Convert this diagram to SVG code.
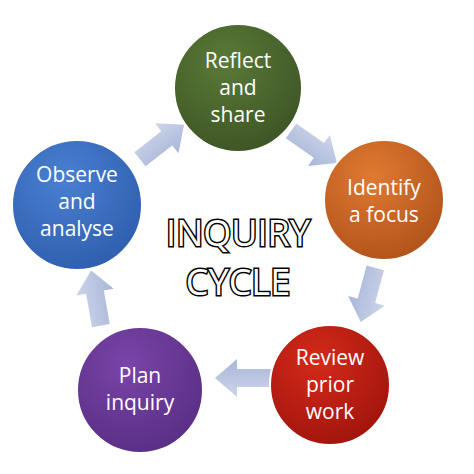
<svg xmlns="http://www.w3.org/2000/svg" width="474" height="474" viewBox="0 0 474 474">
<defs>
<radialGradient id="gG" cx="0.4" cy="0.3" r="0.75"><stop offset="0" stop-color="#5a7a38"/><stop offset="1" stop-color="#3d5424"/></radialGradient>
<radialGradient id="gO" cx="0.4" cy="0.3" r="0.75"><stop offset="0" stop-color="#e07a32"/><stop offset="1" stop-color="#b0521a"/></radialGradient>
<radialGradient id="gR" cx="0.4" cy="0.3" r="0.75"><stop offset="0" stop-color="#d42a1a"/><stop offset="1" stop-color="#a0140c"/></radialGradient>
<radialGradient id="gP" cx="0.4" cy="0.3" r="0.75"><stop offset="0" stop-color="#7a44a8"/><stop offset="1" stop-color="#582e84"/></radialGradient>
<radialGradient id="gB" cx="0.4" cy="0.3" r="0.75"><stop offset="0" stop-color="#4a7fd0"/><stop offset="1" stop-color="#2e5eae"/></radialGradient>
<linearGradient id="gA" x1="0" y1="0" x2="0" y2="1"><stop offset="0" stop-color="#cdd5ea"/><stop offset="1" stop-color="#a9b6d8"/></linearGradient>
<path id="arr" d="M-28,-9 L6,-9 L6,-19 L28,0 L6,19 L6,9 L-28,9 Z" fill="url(#gA)"/>
</defs>
<style>
.c{stroke:#ffffff;stroke-width:2}
.t{font-family:"Open Sans","Noto Sans",sans-serif;font-size:21px;fill:#fff;text-anchor:middle}
.m{font-family:"Open Sans","Noto Sans",sans-serif;font-size:36px;fill:#fff;stroke:#000;stroke-width:3;paint-order:stroke;text-anchor:middle}
</style>
<rect width="474" height="474" fill="#fff"/>
<g id="connectors">
<use href="#arr" transform="translate(162,142) rotate(-38)"/>
<use href="#arr" transform="translate(314,147) rotate(35)"/>
<use href="#arr" transform="translate(368,295) rotate(105)"/>
<use href="#arr" transform="translate(243,378) rotate(180)"/>
<use href="#arr" transform="translate(96,298) rotate(-100)"/>
</g>
<g id="reflect"><circle class="c" cx="238" cy="88" r="64" fill="url(#gG)"/><text class="t" x="238" y="68">Reflect</text><text class="t" x="238" y="95">and</text><text class="t" x="238" y="122">share</text></g>
<g id="identify"><circle class="c" cx="384" cy="200" r="60" fill="url(#gO)"/><text class="t" x="384" y="195">Identify</text><text class="t" x="384" y="222">a focus</text></g>
<g id="review"><circle class="c" cx="330" cy="385" r="60" fill="url(#gR)"/><text class="t" x="330" y="365">Review</text><text class="t" x="330" y="392">prior</text><text class="t" x="330" y="419">work</text></g>
<g id="plan"><circle class="c" cx="140" cy="390" r="63" fill="url(#gP)"/><text class="t" x="140" y="383">Plan</text><text class="t" x="140" y="410">inquiry</text></g>
<g id="observe"><circle class="c" cx="77" cy="205" r="65" fill="url(#gB)"/><text class="t" x="77" y="182">Observe</text><text class="t" x="77" y="209">and</text><text class="t" x="77" y="236">analyse</text></g>
<g id="title"><text class="m" x="238" y="246">INQUIRY</text><text class="m" x="238" y="295">CYCLE</text></g>
</svg>
